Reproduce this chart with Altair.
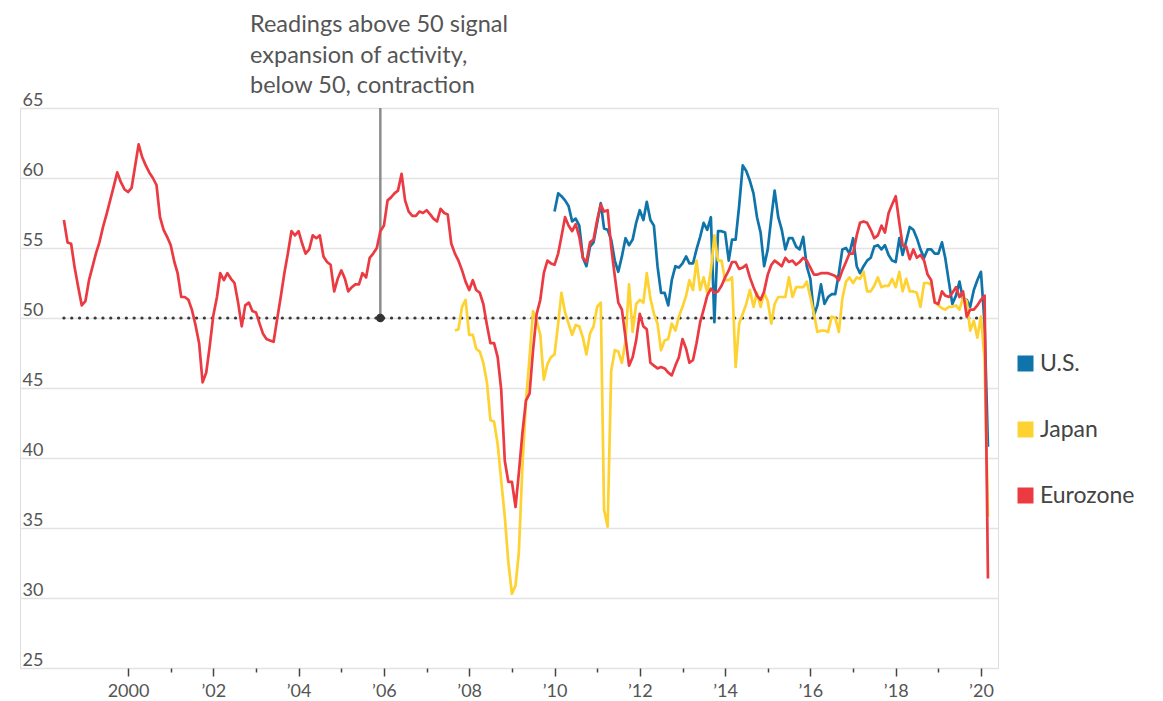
import altair as alt
import pandas as pd

# ---------------- data (monthly composite PMI readings) ----------------
series_names = ["U.S.", "Japan", "Eurozone"]
series_colors = ["#0f74aa", "#fdd231", "#eb3a42"]

us_start = (2010, 1)
us_values = [
    57.6, 58.9, 58.7, 58.4, 58.0, 56.9, 57.1, 56.6, 54.3, 53.7, 55.1, 55.4,  # 2010
    56.8, 58.2, 56.4, 56.3, 55.6, 54.1, 53.3, 54.4, 55.7, 55.2, 55.6, 56.8,  # 2011
    57.7, 57.0, 58.3, 57.0, 56.6, 53.7, 51.8, 51.8, 50.9, 52.7, 53.7, 53.6,  # 2012
    53.9, 54.4, 53.9, 53.9, 54.9, 55.8, 56.8, 56.3, 57.2, 49.7, 56.2, 56.2,  # 2013
    56.1, 54.1, 55.6, 55.6, 58.0, 60.9, 60.5, 59.8, 58.9, 57.2, 56.1, 53.7,  # 2014
    54.9, 57.2, 59.1, 57.2, 56.3, 54.9, 55.7, 55.7, 55.1, 54.9, 55.8, 53.7,  # 2015
    52.8, 50.2, 50.9, 52.4, 51.0, 51.5, 51.7, 51.7, 53.2, 54.9, 55.0, 54.6,  # 2016
    55.7, 53.7, 53.2, 53.7, 54.1, 54.3, 55.1, 55.2, 54.9, 55.2, 54.5, 54.1,  # 2017
    54.0, 55.7, 54.5, 55.5, 56.5, 56.3, 55.7, 54.9, 54.3, 54.9, 54.9, 54.6,  # 2018
    54.6, 55.4, 54.3, 52.6, 51.0, 51.6, 52.6, 51.3, 51.3, 50.8, 52.0, 52.7,  # 2019
    53.3, 49.6, 40.8,                                                        # 2020
]

japan_start = (2007, 9)
japan_values = [
    49.1, 49.2, 50.8, 51.3,                                                  # 2007
    48.8, 48.8, 47.8, 47.6, 46.8, 45.4, 42.7, 42.6, 41.0, 38.4, 35.8, 32.6,  # 2008
    30.3, 30.9, 33.2, 39.4, 44.0, 47.2, 50.5, 49.8, 48.8, 45.6, 46.7, 47.2,  # 2009
    47.4, 49.6, 51.8, 50.4, 49.6, 48.8, 49.5, 49.4, 48.6, 47.4, 48.9, 49.4,  # 2010
    50.8, 51.1, 36.3, 35.1, 46.2, 47.7, 47.6, 46.8, 48.4, 52.4, 49.0, 51.0,  # 2011
    51.3, 51.1, 53.2, 51.4, 50.3, 49.6, 47.7, 48.4, 48.5, 49.6, 49.1, 50.1,  # 2012
    50.8, 51.6, 52.7, 52.0, 54.1, 52.0, 52.9, 51.8, 53.4, 55.9, 54.1, 54.1,  # 2013
    52.7, 52.7, 52.9, 46.5, 49.6, 50.3, 51.0, 52.0, 50.8, 51.8, 50.8, 51.8,  # 2014
    51.2, 49.6, 51.0, 51.5, 51.5, 51.5, 52.9, 51.5, 52.2, 52.2, 52.2, 52.6,  # 2015
    51.5, 50.3, 49.0, 49.1, 49.1, 49.0, 50.1, 50.0, 49.0, 51.4, 52.6, 52.9,  # 2016
    52.5, 52.9, 52.8, 53.3, 51.9, 51.9, 52.3, 52.9, 52.2, 52.3, 52.3, 52.8,  # 2017
    52.2, 53.3, 51.9, 52.8, 51.9, 51.9, 51.8, 50.8, 52.5, 52.5, 52.4, 51.2,  # 2018
    50.9, 50.7, 50.6, 50.8, 50.8, 50.9, 50.6, 51.5, 51.2, 49.1, 49.8, 48.6,  # 2019
    50.1, 47.0, 35.8,                                                        # 2020
]

euro_start = (1998, 7)
euro_values = [
    57.0, 55.4, 55.3, 53.6, 52.2, 50.9,                                      # 1998
    51.2, 52.7, 53.6, 54.6, 55.4, 56.5, 57.4, 58.4, 59.4, 60.4, 59.7, 59.2,  # 1999
    59.0, 59.3, 60.8, 62.4, 61.5, 60.9, 60.4, 60.0, 59.5, 57.2, 56.3, 55.8,  # 2000
    55.2, 54.0, 53.2, 51.5, 51.5, 51.3, 50.6, 49.5, 48.2, 45.4, 46.1, 48.0,  # 2001
    50.2, 51.5, 53.2, 52.7, 53.2, 52.8, 52.5, 51.1, 49.4, 50.9, 51.1, 50.5,  # 2002
    50.4, 49.6, 48.9, 48.5, 48.4, 48.3, 49.9, 51.5, 53.2, 54.6, 56.2, 55.9,  # 2003
    56.2, 55.3, 54.6, 54.9, 55.9, 55.7, 55.9, 54.4, 54.0, 53.8, 51.9, 52.8,  # 2004
    53.4, 52.8, 51.9, 52.2, 52.4, 52.4, 53.2, 52.9, 54.3, 54.6, 55.0, 56.2,  # 2005
    56.6, 58.4, 58.6, 58.9, 59.1, 60.3, 58.4, 57.6, 57.3, 57.3, 57.6, 57.5,  # 2006
    57.7, 57.4, 57.1, 56.9, 57.8, 57.5, 57.4, 55.3, 54.6, 54.1, 53.4, 52.6,  # 2007
    52.0, 52.7, 52.0, 51.8, 51.0, 49.5, 48.2, 48.2, 47.2, 44.9, 39.8, 38.3,  # 2008
    38.3, 36.5, 38.9, 41.8, 44.1, 44.6, 47.7, 50.3, 51.3, 53.2, 54.1, 53.9,  # 2009
    53.8, 54.6, 55.8, 57.2, 56.6, 56.2, 56.7, 55.8, 54.3, 54.0, 55.4, 55.6,  # 2010
    57.0, 58.1, 57.6, 57.7, 55.1, 53.0, 51.1, 50.6, 48.6, 46.6, 47.2, 48.4,  # 2011
    50.3, 49.4, 49.2, 46.8, 46.6, 46.4, 46.5, 46.4, 46.1, 45.9, 46.6, 47.2,  # 2012
    48.5, 47.8, 46.8, 47.0, 48.2, 49.7, 50.6, 51.6, 52.1, 51.8, 51.9, 52.3,  # 2013
    52.9, 53.4, 54.0, 54.0, 53.5, 53.6, 53.8, 52.9, 52.2, 51.6, 51.3, 51.9,  # 2014
    53.1, 53.8, 54.1, 53.9, 53.7, 54.3, 54.0, 54.1, 53.8, 54.0, 54.3, 54.1,  # 2015
    53.6, 53.1, 53.1, 53.2, 53.2, 53.2, 53.1, 53.0, 52.7, 53.4, 54.0, 54.6,  # 2016
    54.6, 55.9, 56.8, 56.9, 56.8, 56.3, 55.7, 55.9, 56.6, 56.1, 57.5, 58.1,  # 2017
    58.7, 56.8, 55.2, 55.1, 54.2, 54.9, 54.3, 54.5, 54.1, 53.1, 52.7, 51.1,  # 2018
    51.0, 51.9, 51.6, 51.5, 51.8, 52.2, 51.5, 51.9, 50.1, 50.6, 50.6, 50.9,  # 2019
    51.3, 51.6, 31.4,                                                        # 2020
]

x_tick_years = list(range(2000, 2021))
y_tick_values = [25, 30, 35, 40, 45, 50, 55, 60, 65]

threshold_value = 50
threshold_start = "1998-07-01T00:00:00"
threshold_end = "2020-03-01T00:00:00"
annotation_date = "2005-12-01T00:00:00"
annotation_text = "Readings above 50 signal\nexpansion of activity,\nbelow 50, contraction"


def month_dates(start, n):
    y, m = start
    out = []
    for i in range(n):
        k = m - 1 + i
        out.append(f"{y + k // 12:04d}-{k % 12 + 1:02d}-01T00:00:00")
    return out


frames = []
for name, start, vals in [("U.S.", us_start, us_values),
                          ("Japan", japan_start, japan_values),
                          ("Eurozone", euro_start, euro_values)]:
    frames.append(pd.DataFrame({"date": month_dates(start, len(vals)),
                                "value": vals, "series": name}))
df = pd.concat(frames, ignore_index=True)

# ---------------- scales / axes ----------------
FONT = "Lato"
x_scale = alt.Scale(domain=[alt.DateTime(year=1997, month=6, date=20),
                            alt.DateTime(year=2020, month=5, date=26)])
y_scale = alt.Scale(domain=[25, 65], nice=False, zero=False)

x_axis = alt.Axis(
    values=[alt.DateTime(year=y, month=1, date=1) for y in x_tick_years],
    labelExpr="year(datum.value) == 2000 ? '2000' : (year(datum.value) % 2 == 0 ? '\u2019' + substring(toString(year(datum.value)), 2, 4) : '')",
    title=None, grid=False, domain=False,
    tickColor="#444", tickWidth=1.5,
    tickSize={"condition": {"test": "year(datum.value) % 2 == 0", "value": 8}, "value": 4},
    labelFont=FONT, labelFontSize=18, labelColor="#555",
    labelPadding=6, labelAngle=0,
)
y_axis = alt.Axis(
    values=y_tick_values, title=None, domain=False, ticks=False,
    grid=True, gridColor="#e3e3e3", gridWidth=1.5,
    labelAlign="left", labelBaseline="alphabetic", labelPadding=-2,
    labelOffset=-3, labelFont=FONT, labelFontSize=18, labelColor="#555",
)


def X(field):
    return alt.X(field, type="temporal", scale=x_scale, axis=x_axis)


def Y(field):
    return alt.Y(field, type="quantitative", scale=y_scale, axis=y_axis)


color = alt.Color(
    "series:N",
    scale=alt.Scale(domain=series_names, range=series_colors),
    legend=alt.Legend(
        orient="none", legendX=994, legendY=244, title=None, direction="vertical",
        padding=0, symbolType="square", symbolSize=64, symbolStrokeWidth=8,
        symbolOpacity=1,
        labelFont=FONT, labelFontSize=23, labelColor="#444", labelOffset=3,
        rowPadding=25,
    ),
)

# ---------------- layers ----------------
thr_df = pd.DataFrame({"start": [threshold_start], "end": [threshold_end],
                       "value": [threshold_value]})
threshold = alt.Chart(thr_df).mark_rule(
    color="#3a3a3a", strokeWidth=3.2, strokeCap="round", strokeDash=[0.1, 7.7]
).encode(x=X("start"), x2="end", y=Y("value"))

ann_df = pd.DataFrame({"date": [annotation_date], "top": [65], "bottom": [threshold_value],
                       "text": [annotation_text]})
ann_rule = alt.Chart(ann_df).mark_rule(color="#8c8c8c", strokeWidth=2.5).encode(
    x=X("date"), y=Y("top"), y2="bottom")
ann_dot = alt.Chart(ann_df).mark_circle(size=75, color="#333", opacity=1).encode(
    x=X("date"), y=Y("bottom"))
ann_text = alt.Chart(ann_df).mark_text(
    align="left", baseline="alphabetic", lineBreak="\n", lineHeight=30.5,
    font=FONT, fontSize=23.5, color="#555"
).encode(x=alt.value(230), y=alt.value(-76), text="text:N")

lines = []
for name in series_names:
    lines.append(
        alt.Chart(df).transform_filter(alt.datum.series == name).mark_line(
            strokeWidth=2.7, strokeJoin="round"
        ).encode(x=X("date"), y=Y("value"), color=color)
    )

chart = alt.layer(threshold, ann_rule, *lines, ann_dot, ann_text).properties(
    width=978, height=560,
    autosize=alt.AutoSizeParams(type="none"),
    padding={"left": 12, "top": 100, "right": 157, "bottom": 33},
).configure_view(stroke=None).configure(background="white")

chart.save("out.html", embed_options={"renderer": "svg", "actions": False})
